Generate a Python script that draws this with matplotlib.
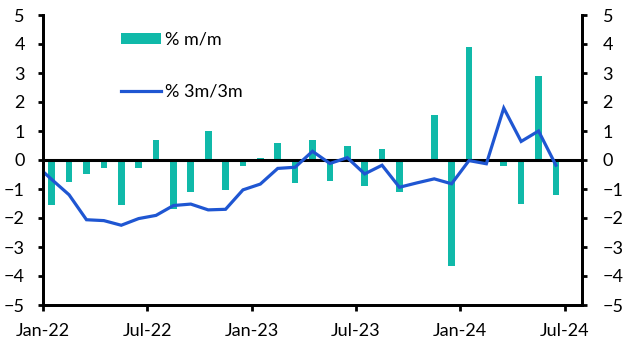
import numpy as np
import matplotlib
matplotlib.use("Agg")
import matplotlib.pyplot as plt

plt.rcParams['font.family'] = ['Lato', 'DejaVu Sans']

# monthly data, Jan-22 .. Jun-24
months = ['Jan-22', 'Feb-22', 'Mar-22', 'Apr-22', 'May-22', 'Jun-22',
          'Jul-22', 'Aug-22', 'Sep-22', 'Oct-22', 'Nov-22', 'Dec-22',
          'Jan-23', 'Feb-23', 'Mar-23', 'Apr-23', 'May-23', 'Jun-23',
          'Jul-23', 'Aug-23', 'Sep-23', 'Oct-23', 'Nov-23', 'Dec-23',
          'Jan-24', 'Feb-24', 'Mar-24', 'Apr-24', 'May-24', 'Jun-24']
pct_mm = [-1.54, -0.77, -0.49, -0.29, -1.56, -0.29, 0.69, -1.70, -1.12, 1.01,
          -1.02, -0.22, 0.08, 0.60, -0.81, 0.70, -0.71, 0.49, -0.91, 0.38,
          -1.11, 0.0, 1.56, -3.67, 3.91, 0.0, -0.22, -1.53, 2.91, -1.22]
# 3m/3m series starts one month earlier (Dec-21, clipped at the axis edge)
pct_3m3m = [-0.13, -0.67, -1.20, -2.06, -2.09, -2.25, -2.02, -1.91, -1.57, -1.52,
            -1.72, -1.70, -1.03, -0.83, -0.29, -0.25, 0.30, -0.12, 0.08, -0.48,
            -0.18, -0.94, -0.79, -0.65, -0.82, -0.02, -0.13, 1.79, 0.64, 1.00,
            -0.18]
tick_labels = ['Jan-22', 'Jul-22', 'Jan-23', 'Jul-23', 'Jan-24', 'Jul-24']

teal = '#10B9A9'
blue = '#1F56D2'

fig = plt.figure(figsize=(6.3, 3.55), dpi=100)
ax = fig.add_axes([43 / 630, 50 / 355, 539 / 630, 290 / 355])

x_bar = np.arange(len(pct_mm)) + 0.5
x_line = np.arange(len(pct_3m3m)) - 0.5

bars = ax.bar(x_bar, pct_mm, width=0.385, color=teal, label='% m/m', zorder=1)
ax.axhline(0, color='black', lw=2.2, zorder=2)
line, = ax.plot(x_line, pct_3m3m, color=blue, lw=2.3, label='% 3m/3m', zorder=3,
                solid_joinstyle='miter')

ax.set_xlim(0, 31)
ax.set_ylim(-5, 5)
ax.set_yticks(range(-5, 6))
ax.set_xticks([0, 6, 12, 18, 24, 30])
ax.set_xticklabels(tick_labels)

ax2 = ax.twinx()
ax2.set_ylim(-5, 5)
ax2.set_yticks(range(-5, 6))

for a in (ax, ax2):
    a.spines['top'].set_visible(False)
    for s in ('left', 'right', 'bottom'):
        a.spines[s].set_linewidth(2)
        a.spines[s].set_color('black')

ax.tick_params(axis='y', direction='out', length=3.6, width=2, pad=9.5,
               labelsize=13, colors='black')
ax.tick_params(axis='x', direction='out', length=4, width=2, pad=9,
               labelsize=13, colors='black')
ax2.tick_params(axis='y', direction='out', length=3.8, width=2, pad=11,
                labelsize=13, colors='black')

ax.legend(handles=[bars, line], labels=['% m/m', '% 3m/3m'],
          loc='upper left', bbox_to_anchor=(0.1447, 0.942),
          frameon=False, fontsize=13, borderpad=0, borderaxespad=0,
          handlelength=2.2, handleheight=0.58, handletextpad=0.22,
          labelspacing=2.0)

fig.savefig('out.png', dpi=100)
